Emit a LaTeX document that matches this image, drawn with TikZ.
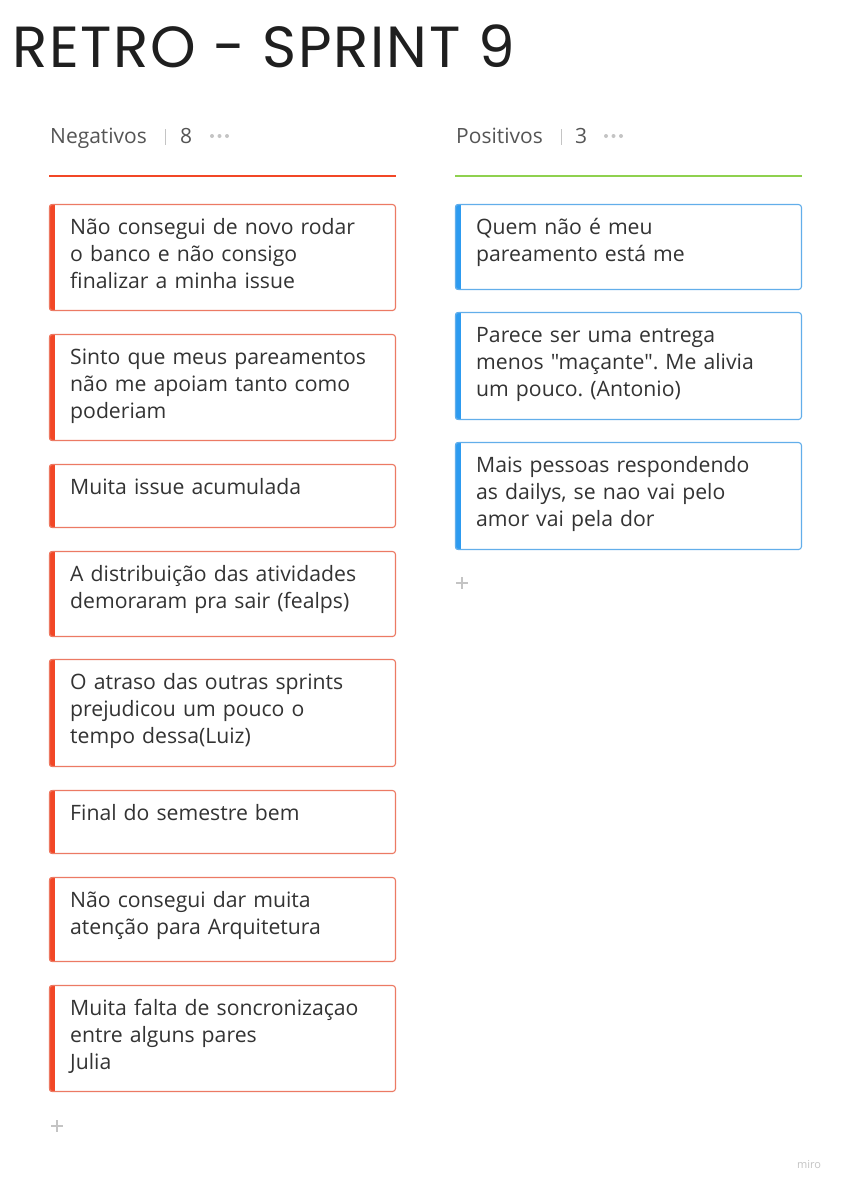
\documentclass[tikz,border=0pt]{standalone}
\usepackage{fontspec}
\setmainfont[Ligatures=TeXOff]{Open Sans}
\newfontfamily\titlefont[LetterSpace=3]{Poppins}
\usetikzlibrary{positioning}

\definecolor{negred}{HTML}{F24726}
\definecolor{negedge}{HTML}{EC7A64}
\definecolor{posgreen}{HTML}{8FD14F}
\definecolor{posblue}{HTML}{2D9BF0}
\definecolor{posedge}{HTML}{62AEEA}
\definecolor{cardtext}{HTML}{333333}
\definecolor{headtext}{HTML}{555555}
\definecolor{faint}{HTML}{C4C4C4}

\tikzset{
  cardtxt/.style={anchor=base west,inner sep=0pt,text width=320pt,align=left,
    text=cardtext,font=\fontsize{21.2}{27.3}\selectfont},
  headtxt/.style={anchor=base west,inner sep=0pt,text=headtext,
    font=\fontsize{21}{24}\selectfont},
}
\frenchspacing

\begin{document}
\begin{tikzpicture}[x=1pt,y=-1pt]
  \fill[white] (0,0) rectangle (841,1187);
  \useasboundingbox (0,0) rectangle (841,1187);
  \node[anchor=base west,inner sep=0pt,text=black!88,
    font=\titlefont\fontsize{58}{58}\selectfont] (title) at (12,67) {RETRO - SPRINT 9};

  % column headers
  \node[headtxt] (neghead) at (50,143) {Negativos};
  \draw[faint] (165,129) -- (165,145);
  \node[headtxt] (negcount) at (180,143) {8};
  \foreach \x in {212,219.5,227}
    \fill[faint] (\x,136) circle (2);
  \draw[negred,line width=2] (49,176) -- (396,176);

  \node[headtxt] (poshead) at (456,143) {Positivos};
  \draw[faint] (561,129) -- (561,145);
  \node[headtxt] (poscount) at (575,143) {3};
  \foreach \x in {606,613.5,621}
    \fill[faint] (\x,136) circle (2);
  \draw[posgreen,line width=2] (455,176) -- (802,176);

  % negative cards
  \foreach \i/\top/\ht/\txt in {
      1/204/107/{Não consegui de novo rodar\\o banco e não consigo\\finalizar a minha issue},
      2/334/107/{Sinto que meus pareamentos\\não me apoiam tanto como\\poderiam},
      3/464/64/{Muita issue acumulada},
      4/551/86/{A distribuição das atividades\\demoraram pra sair (fealps)},
      5/659/108/{O atraso das outras sprints\\prejudicou um pouco o\\tempo dessa(Luiz)},
      6/790/64/{Final do semestre bem},
      7/877/85/{Não consegui dar muita\\atenção para Arquitetura},
      8/985/107/{Muita falta de soncronizaçao\\entre alguns pares\\Julia}}{
    \begin{scope}
      \clip[rounded corners=3] (49,\top) rectangle (396,\top+\ht);
      \fill[negred] (49,\top) rectangle (55,\top+\ht);
    \end{scope}
    \draw[negedge,line width=1.1,rounded corners=3] (49.5,\top+0.5) rectangle (395.5,\top+\ht-0.5);
    \node[cardtxt] (neg\i) at (70,\top+30) {\txt};
  }

  % positive cards
  \foreach \i/\top/\ht/\txt in {
      1/204/86/{Quem não é meu\\pareamento está me},
      2/312/108/{Parece ser uma entrega\\menos "maçante". Me alivia\\um pouco. (Antonio)},
      3/442/108/{Mais pessoas respondendo\\as dailys, se nao vai pelo\\amor vai pela dor}}{
    \begin{scope}
      \clip[rounded corners=3] (455,\top) rectangle (802,\top+\ht);
      \fill[posblue] (455,\top) rectangle (461,\top+\ht);
    \end{scope}
    \draw[posedge,line width=1.1,rounded corners=3] (455.5,\top+0.5) rectangle (801.5,\top+\ht-0.5);
    \node[cardtxt] (pos\i) at (476,\top+30) {\txt};
  }

  % add buttons
  \draw[faint,line width=1.4] (51,1126) -- (63,1126) (57,1120) -- (57,1132);
  \draw[faint,line width=1.4] (456,583) -- (468,583) (462,577) -- (462,589);

  \node[anchor=base,inner sep=0pt,text=faint,font=\fontsize{11}{11}\selectfont] (brand) at (809,1168) {miro};
\end{tikzpicture}
\end{document}
